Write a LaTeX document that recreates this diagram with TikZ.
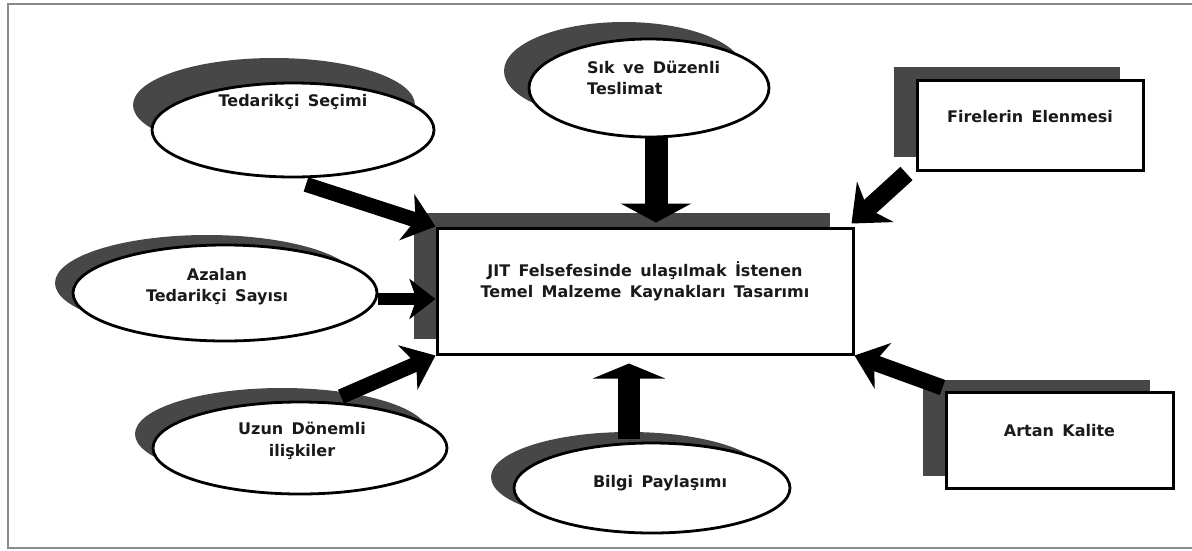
\documentclass[tikz,border=0pt]{standalone}
\usepackage{fontspec}
\setmainfont{DejaVu Sans}[WordSpace=1.5]
\usetikzlibrary{arrows.meta,shapes.geometric,shadows}
\definecolor{shade}{HTML}{474747}
\definecolor{ink}{HTML}{1A1A1A}
\definecolor{framegray}{HTML}{8A8A8A}

\begin{document}
\begin{tikzpicture}[x=1pt,y=-1pt,
  oval/.style={ellipse, draw=black, line width=2.8pt, fill=white, inner sep=0pt},
  card/.style={rectangle, draw=black, line width=3pt, fill=white, inner sep=0pt},
  lbl/.style={font=\bfseries\fontsize{16}{21.5}\selectfont, text=ink, align=center, inner sep=0pt},
  flow/.style={draw=black, line width=15pt, -{Stealth[length=30pt,width=48pt,inset=9pt]}},
  push/.style={draw=black, line width=23pt, -{Triangle[length=19pt,width=70pt]}},
]
\useasboundingbox (0,0) rectangle (1192,550);

% outer frame
\draw[framegray, line width=2.5pt] (1192,4) -- (8,4) -- (8,548) -- (1192,548);

% central box
\node[card, minimum width=416pt, minimum height=126pt,
      general shadow={shadow xshift=-23pt, shadow yshift=15pt, fill=shade}]
      (main) at (645,291) {};

% surrounding ovals
\node[oval, minimum width=282pt, minimum height=94pt,
      general shadow={shadow xshift=-19pt, shadow yshift=25pt, fill=shade}]
      (ted) at (293,130) {};
\node[oval, minimum width=240pt, minimum height=98pt,
      general shadow={shadow xshift=-25pt, shadow yshift=17pt, fill=shade}]
      (sik) at (649,88) {};
\node[oval, minimum width=304pt, minimum height=96pt,
      general shadow={shadow xshift=-18pt, shadow yshift=10pt, fill=shade}]
      (aza) at (225,293) {};
\node[oval, minimum width=294pt, minimum height=92pt,
      general shadow={shadow xshift=-18pt, shadow yshift=14pt, fill=shade}]
      (uzu) at (300,448) {};
\node[oval, minimum width=276pt, minimum height=90pt,
      general shadow={shadow xshift=-23pt, shadow yshift=11pt, fill=shade}]
      (bil) at (652,488) {};

% surrounding boxes
\node[card, minimum width=226pt, minimum height=90pt,
      general shadow={shadow xshift=-23pt, shadow yshift=13pt, fill=shade}]
      (fir) at (1030,125) {};
\node[card, minimum width=227pt, minimum height=96pt,
      general shadow={shadow xshift=-23pt, shadow yshift=12pt, fill=shade}]
      (art) at (1059.5,440) {};

% labels
\node[lbl] (main-t) at ([yshift=9.5pt]main.center)
  {JIT Felsefesinde ulaşılmak İstenen\\Temel Malzeme Kaynakları Tasarımı};
\node[lbl] (ted-t) at ([yshift=28pt]ted.center) {Tedarikçi Seçimi};
\node[lbl, align=left, anchor=west] (sik-t) at ([xshift=-62pt,yshift=10pt]sik.center)
  {Sık ve Düzenli\\Teslimat};
\node[lbl] (aza-t) at ([xshift=-8pt,yshift=6.5pt]aza.center) {Azalan\\Tedarikçi Sayısı};
\node[lbl] (uzu-t) at ([xshift=2pt,yshift=7pt]uzu.center) {Uzun Dönemli\\ilişkiler};
\node[lbl] (bil-t) at ([xshift=8pt,yshift=5pt]bil.center) {Bilgi Paylaşımı};
\node[lbl] (fir-t) at ([yshift=8pt]fir.center) {Firelerin Elenmesi};
\node[lbl] (art-t) at ([yshift=9pt]art.center) {Artan Kalite};

% arrows into the central box
\draw[flow] ([xshift=13pt,yshift=-6pt]ted.south) -- (main.north west);
\draw[push] ([xshift=7pt]sik.south) -- ([xshift=11pt,yshift=4pt]main.north);
\draw[flow, line width=18pt, -{Stealth[length=32pt,width=54pt,inset=10pt]}]
  ([xshift=-9pt,yshift=-2pt]fir.south west) -- ([xshift=-3pt,yshift=3pt]main.north east);
\draw[flow, line width=12pt, -{Stealth[length=26pt,width=40pt,inset=7pt]}]
  ([yshift=-6pt]aza.east) -- ([yshift=-8pt]main.west);
\draw[flow] ([xshift=41pt,yshift=4pt]uzu.north) -- (main.south west);
\draw[push, line width=22pt, -{Triangle[length=15pt,width=72pt]}]
  ([xshift=-23pt,yshift=3pt]bil.north) -- ([xshift=-16pt,yshift=-8pt]main.south);
\draw[flow, line width=16pt] ([xshift=-2pt,yshift=3pt]art.north west) -- (main.south east);
\end{tikzpicture}
\end{document}
